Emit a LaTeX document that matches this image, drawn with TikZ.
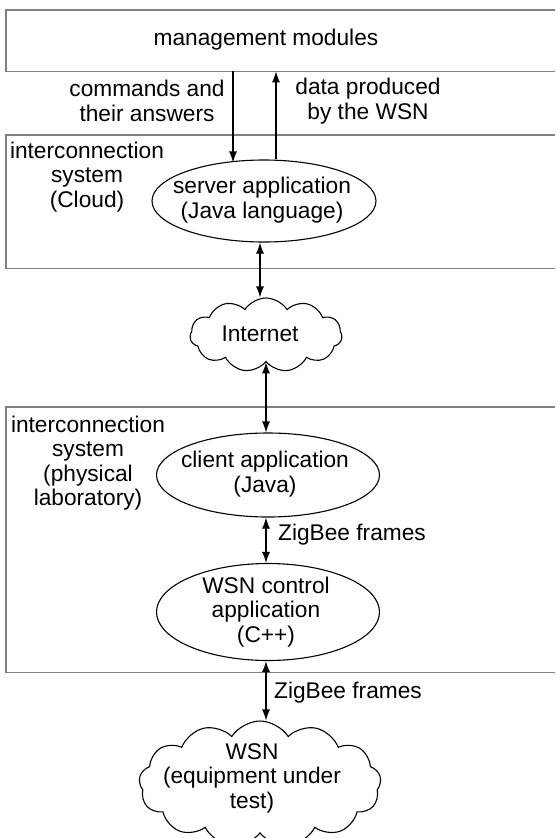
\documentclass[tikz,border=0pt]{standalone}
\usepackage{fontspec}
\setmainfont{Liberation Sans}
\usetikzlibrary{shapes.geometric,shapes.symbols,arrows.meta}
\begin{document}
\begin{tikzpicture}[x=1pt,y=-1pt,
  every node/.style={font=\fontsize{22.7}{24.5}\selectfont},
  boxline/.style={draw=black!50,line width=1.3pt},
  region/.style={draw=none,inner sep=0pt,anchor=north west,minimum width=549pt},
  appell/.style={ellipse,draw,line width=1.1pt,inner sep=0pt},
  cloudy/.style={cloud,draw,line width=1.1pt,cloud ignores aspect,inner sep=0pt},
  txt/.style={align=center,inner sep=0pt},
  conn/.style={line width=1.1pt,-{Latex[length=11pt,width=8pt]}},
  biconn/.style={line width=1.1pt,{Latex[length=11pt,width=8pt]}-{Latex[length=11pt,width=8pt]}}]
\useasboundingbox[fill=white] (0,0) rectangle (555,838);

% regions
\node[region,minimum height=61pt] (mgmt) at (6,10) {};
\node[txt] (mgmttxt) at (266,40) {management modules};
\draw[boxline] (mgmt.north east) -- (mgmt.north west) -- (mgmt.south west) -- (mgmt.south east);

\node[region,minimum height=133pt] (cloudsys) at (6,135) {};
\draw[boxline] (cloudsys.north east) -- (cloudsys.north west) -- (cloudsys.south west) -- (cloudsys.south east);
\node[txt] (cloudlbl) at (87,177) {interconnection\\system\\(Cloud)};

\node[region,minimum height=265pt] (labsys) at (6,407) {};
\draw[boxline] (labsys.north east) -- (labsys.north west) -- (labsys.south west) -- (labsys.south east);
\node[txt] (lablbl) at (88,463) {interconnection\\system\\(physical\\laboratory)};

% applications
\node[appell,minimum width=224pt,minimum height=82pt] (server) at (264,201) {};
\node[txt] (servertxt) at (262,200) {server application\\(Java language)};
\node[cloudy,cloud puffs=11,cloud puff arc=115,minimum width=152pt,minimum height=74pt] (inet) at (266,335) {};
\node[txt] (inettxt) at (260,334) {Internet};
\node[appell,minimum width=223pt,minimum height=84pt] (client) at (268,475) {};
\node[txt] (clienttxt) at (265,474) {client application\\(Java)};
\node[appell,minimum width=223pt,minimum height=97pt] (wsnctl) at (268,612) {};
\node[txt] (wsnctxt) at (266,612) {WSN control\\application\\(C++)};
\node[cloudy,cloud puffs=13,cloud puff arc=115,minimum width=242pt,minimum height=126pt] (wsn) at (260,784) {};
\node[txt] (wsntxt) at (252,778) {WSN\\(equipment under\\test)};

% connectors
\coordinate (cmdx) at (233,0);
\coordinate (datx) at (276,0);
\coordinate (linkx) at (260,0);
\coordinate (link2x) at (266,0);
\draw[conn] (mgmt.south -| cmdx) -- ([yshift=-3pt]server.north -| cmdx);
\draw[conn] (server.north -| datx) -- (mgmt.south -| datx);
\node[txt] (cmdlbl) at (147,101) {commands and\\their answers};
\node[txt] (datlbl) at (368,101) {data produced\\by the WSN};

\draw[biconn] (server.south -| linkx) -- (inet.north -| linkx);
\draw[biconn] (inet.south -| link2x) -- (client.north -| link2x);
\draw[biconn] (client.south -| link2x) -- (wsnctl.north -| link2x);
\node[txt,anchor=west] (zb1) at (278,535) {ZigBee frames};
\draw[biconn] (wsnctl.south -| link2x) -- (wsn.north -| link2x);
\node[txt,anchor=west] (zb2) at (274,693) {ZigBee frames};
\end{tikzpicture}
\end{document}
